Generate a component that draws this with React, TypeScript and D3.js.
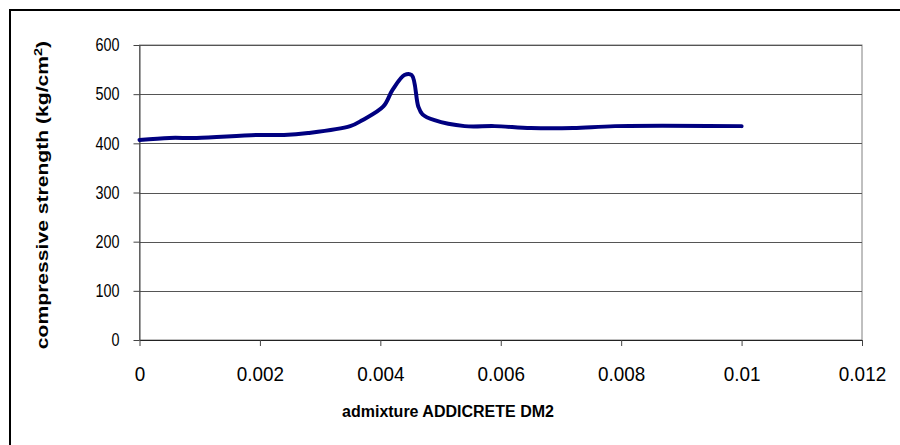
import React, { useRef, useEffect } from 'react'
import * as d3 from 'd3'

const admixture = [0, 0.0005, 0.00095, 0.00195, 0.0024, 0.0028, 0.0035, 0.0037, 0.00405, 0.0042, 0.0044, 0.00452, 0.00463, 0.0047, 0.0049, 0.0054, 0.0059, 0.0065, 0.0072, 0.0079, 0.01]
const strength = [407, 411, 411, 417, 417, 421, 435, 447, 475, 508, 539, 539, 475, 459, 447, 435, 435, 431, 431, 435, 435]
const xTicks = [0, 0.002, 0.004, 0.006, 0.008, 0.01, 0.012]
const yTicks = [0, 100, 200, 300, 400, 500, 600]

const FONT = 'Liberation Sans, Arial, sans-serif'

export default function App() {
  const svgRef = useRef<SVGSVGElement>(null)

  useEffect(() => {
    document.body.style.margin = '0'
    document.body.style.overflow = 'hidden'
    if (!svgRef.current) return
    const svg = d3.select(svgRef.current)
    svg.selectAll('*').remove()

    const left = 139.5, right = 862, top = 45, bottom = 340

    const x = d3.scaleLinear().domain([0, 0.012]).range([left, right])
    const y = d3.scaleLinear().domain([0, 600]).range([bottom, top])

    // outer frame, only top and left edges fall inside the picture
    svg.append('line').attr('x1', 9).attr('x2', 900).attr('y1', 10).attr('y2', 10)
      .attr('stroke', '#000').attr('stroke-width', 2)
    svg.append('line').attr('x1', 10).attr('x2', 10).attr('y1', 9).attr('y2', 445)
      .attr('stroke', '#000').attr('stroke-width', 2)

    // plot area border
    svg.append('rect')
      .attr('x', left).attr('y', top)
      .attr('width', right - left).attr('height', bottom - top)
      .attr('fill', 'none').attr('stroke', '#808080').attr('stroke-width', 1)

    // gridlines
    svg.append('g').selectAll('line')
      .data(yTicks.filter(d => d > 0))
      .enter().append('line')
      .attr('x1', left).attr('x2', right)
      .attr('y1', d => Math.round(y(d)) + 0.5).attr('y2', d => Math.round(y(d)) + 0.5)
      .attr('stroke', '#555').attr('stroke-width', 1)

    // y axis
    const yAxis = svg.append('g')
      .attr('transform', `translate(${left},0)`)
      .call(d3.axisLeft(y).tickValues(yTicks).tickSize(6).tickSizeOuter(0).tickFormat(d => String(d)))
    yAxis.select('.domain').attr('stroke', '#444')
    yAxis.selectAll('.tick line').attr('stroke', '#444')
    yAxis.selectAll('.tick text')
      .attr('x', 0)
      .attr('transform', 'translate(-20,0) scale(0.8,1)')
      .attr('font-family', FONT)
      .attr('font-size', 18).attr('fill', '#000')

    // x axis
    const xAxis = svg.append('g')
      .attr('transform', `translate(0,${bottom})`)
      .call(d3.axisBottom(x).tickValues(xTicks).tickSize(6).tickSizeOuter(0).tickFormat(d => String(d)))
    xAxis.select('.domain').attr('stroke', '#222')
    xAxis.selectAll('.tick text')
      .attr('y', 0).attr('dy', null)
      .attr('transform', 'translate(0,41) scale(0.9,1)')
      .attr('font-family', FONT)
      .attr('font-size', 21).attr('fill', '#000')
    xAxis.selectAll('.tick line').attr('stroke', '#444')

    // line
    const line = d3.line<number>()
      .x((_, i) => x(admixture[i]))
      .y(d => y(d))
      .curve(d3.curveCatmullRom.alpha(0.5))
    svg.append('path')
      .datum(strength)
      .attr('d', line)
      .attr('fill', 'none')
      .attr('stroke', '#000080')
      .attr('stroke-width', 4)
      .attr('stroke-linejoin', 'round')
      .attr('stroke-linecap', 'round')

    // axis titles
    svg.append('text')
      .attr('x', 448).attr('y', 417)
      .attr('text-anchor', 'middle')
      .attr('font-family', FONT)
      .attr('font-weight', 'bold').attr('font-size', 16)
      .text('admixture ADDICRETE DM2')

    const yt = svg.append('text')
      .attr('transform', `translate(48,195) rotate(-90) scale(1.32,1)`)
      .attr('text-anchor', 'middle')
      .attr('font-family', FONT)
      .attr('font-weight', 'bold').attr('font-size', 16)
    yt.append('tspan').text('compressive strength (kg/cm')
    yt.append('tspan').attr('baseline-shift', 'super').attr('font-size', 11).text('2')
    yt.append('tspan').text(')')
  }, [])

  return (
    <svg ref={svgRef} width={900} height={445}
      style={{ position: 'absolute', left: 0, top: 0, display: 'block', background: '#fff' }} />
  )
}
